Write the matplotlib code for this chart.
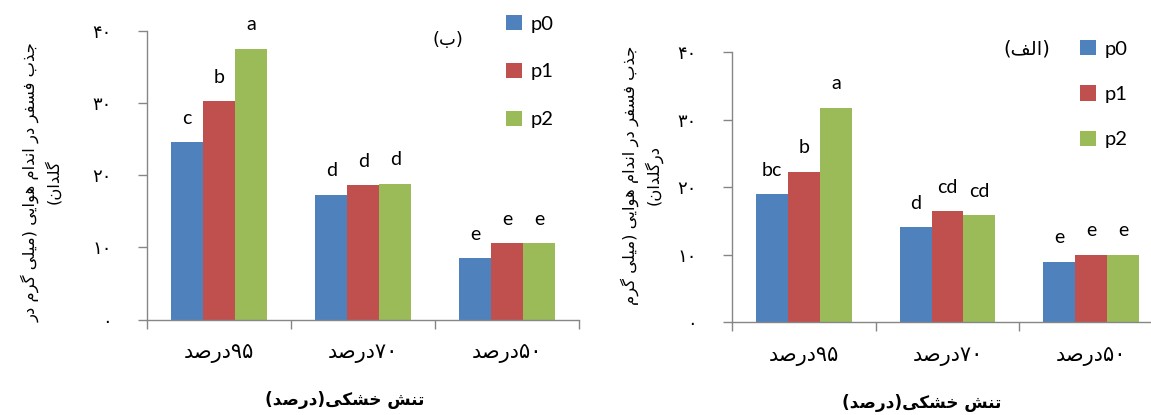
import matplotlib
matplotlib.use("Agg")
import matplotlib.pyplot as plt
import numpy as np

# ---------------- data ----------------
categories = ["۹۵درصد", "۷۰درصد", "۵۰درصد"]
series_names = ["p0", "p1", "p2"]
colors = ["#4F81BD", "#C0504D", "#9BBB59"]

# panel (ب) - left
b_p0 = [24.6, 17.3, 8.5]
b_p1 = [30.2, 18.6, 10.6]
b_p2 = [37.5, 18.8, 10.6]
b_letters = [["c", "d", "e"], ["b", "d", "e"], ["a", "d", "e"]]

# panel (الف) - right
a_p0 = [19.0, 14.1, 9.0]
a_p1 = [22.3, 16.5, 10.0]
a_p2 = [31.8, 15.9, 10.0]
a_letters = [["bc", "d", "e"], ["b", "cd", "e"], ["a", "cd", "e"]]

yticks = [0, 10, 20, 30, 40]
xlabel_text = "تنش خشکی(درصد)"
ylabel_b = "جذب فسفر در اندام هوایی (میلی گرم در\nگلدان)"
ylabel_a = "جذب فسفر در اندام هوایی (میلی گرم\nدرگلدان)"
panel_b = "(ب)"
panel_a = "(الف)"

# ---------------- Persian shaping helpers ----------------
FORMS = {
    'ا': ('\uFE8D', '\uFE8E', None, None),
    'ب': ('\uFE8F', '\uFE90', '\uFE91', '\uFE92'),
    'ت': ('\uFE95', '\uFE96', '\uFE97', '\uFE98'),
    'ج': ('\uFE9D', '\uFE9E', '\uFE9F', '\uFEA0'),
    'خ': ('\uFEA5', '\uFEA6', '\uFEA7', '\uFEA8'),
    'د': ('\uFEA9', '\uFEAA', None, None),
    'ذ': ('\uFEAB', '\uFEAC', None, None),
    'ر': ('\uFEAD', '\uFEAE', None, None),
    'س': ('\uFEB1', '\uFEB2', '\uFEB3', '\uFEB4'),
    'ش': ('\uFEB5', '\uFEB6', '\uFEB7', '\uFEB8'),
    'ص': ('\uFEB9', '\uFEBA', '\uFEBB', '\uFEBC'),
    'ف': ('\uFED1', '\uFED2', '\uFED3', '\uFED4'),
    'ل': ('\uFEDD', '\uFEDE', '\uFEDF', '\uFEE0'),
    'م': ('\uFEE1', '\uFEE2', '\uFEE3', '\uFEE4'),
    'ن': ('\uFEE5', '\uFEE6', '\uFEE7', '\uFEE8'),
    'ه': ('\uFEE9', '\uFEEA', '\uFEEB', '\uFEEC'),
    'و': ('\uFEED', '\uFEEE', None, None),
    'ی': ('\uFBFC', '\uFBFD', '\uFBFE', '\uFBFF'),
    'ک': ('\uFB8E', '\uFB8F', '\uFB90', '\uFB91'),
    'گ': ('\uFB92', '\uFB93', '\uFB94', '\uFB95'),
}
DIGITS = set("0123456789۰۱۲۳۴۵۶۷۸۹")
MIRROR = {'(': ')', ')': '('}


def shape(s):
    out = []
    n = len(s)
    for i, ch in enumerate(s):
        if ch not in FORMS:
            out.append(ch)
            continue
        f = FORMS[ch]
        prev = s[i - 1] if i > 0 else None
        nxt = s[i + 1] if i < n - 1 else None
        jp = prev in FORMS and FORMS[prev][2] is not None
        jn = f[2] is not None and nxt in FORMS
        if jp and jn:
            out.append(f[3])
        elif jp:
            out.append(f[1])
        elif jn:
            out.append(f[2])
        else:
            out.append(f[0])
    return "".join(out)


def visual(s):
    lines = []
    for line in s.split("\n"):
        sh = shape(line)
        toks = []
        i = 0
        while i < len(sh):
            if sh[i] in DIGITS:
                j = i
                while j < len(sh) and sh[j] in DIGITS:
                    j += 1
                toks.append(sh[i:j])
                i = j
            else:
                toks.append(MIRROR.get(sh[i], sh[i]))
                i += 1
        lines.append("".join(reversed(toks)))
    return "\n".join(lines)


def to_fa(n):
    return str(n).translate(str.maketrans("0123456789", "۰۱۲۳۴۵۶۷۸۹"))


FA = ["DejaVu Sans"]
LAT = ["Lato", "DejaVu Sans"]

W, H = 1151, 415
fig = plt.figure(figsize=(W / 100, H / 100), dpi=100)


def px(x, y):
    return x / W, 1 - y / H


def panel(rect, vals, letters, ylabel, ylab_x, ylab_y, plabel, plabel_xy, plabel_fs,
          leg_xy, leg_space, title_xy):
    ax = fig.add_axes(rect)
    x = np.arange(len(categories))
    bw = 0.2222
    bars = []
    for k, (v, c) in enumerate(zip(vals, colors)):
        pos = x + (k - 1) * bw
        b = ax.bar(pos, v, width=bw, color=c, edgecolor="none", label=series_names[k])
        bars.append(b)
        for xi, vi, lab in zip(pos, v, letters[k]):
            ax.annotate(lab, (xi, vi), xytext=(0, 13.2), textcoords="offset points",
                        ha="center", va="baseline", fontsize=14, family=LAT, color="black")
    ax.set_xlim(-0.5, 2.5)
    ax.set_ylim(0, 40)
    for s in ["top", "right"]:
        ax.spines[s].set_visible(False)
    for s in ["left", "bottom"]:
        ax.spines[s].set_color("#868686")
        ax.spines[s].set_linewidth(1.0)
    ax.set_yticks(yticks)
    ax.set_yticklabels([to_fa(t) for t in yticks], family=FA, fontsize=13)
    ax.tick_params(axis="y", direction="out", length=6.5, width=1.0, color="#868686", pad=19)
    ax.set_xticks(x)
    ax.set_xticklabels([visual(c) for c in categories], family=FA, fontsize=15)
    ax.set_xticks(np.arange(-0.5, 3.0, 1.0), minor=True)
    ax.tick_params(axis="x", which="major", length=0, pad=17)
    ax.tick_params(axis="x", which="minor", direction="out", length=6.5, width=1.0, color="#868686")
    ax.patch.set_alpha(0)

    fx, fy = px(*title_xy)
    fig.text(fx, fy, visual(xlabel_text), ha="center", va="center", family=FA,
             fontsize=12.2, fontweight="bold")
    fx, fy = px(ylab_x, ylab_y)
    fig.text(fx, fy, visual(ylabel), rotation=90, ha="center", va="center", family=FA,
             fontsize=11.8, multialignment="center", linespacing=1.35)
    fx, fy = px(*plabel_xy)
    fig.text(fx, fy, visual(plabel), ha="center", va="center", family=FA, fontsize=plabel_fs)

    lx, ly = px(*leg_xy)
    fig.legend(handles=bars, labels=series_names, loc="upper left", bbox_to_anchor=(lx, ly),
               frameon=False, prop={"family": LAT, "size": 14.5}, handlelength=0.78,
               handleheight=0.78, handletextpad=0.45, labelspacing=leg_space, borderpad=0,
               borderaxespad=0)
    return ax


# left panel (ب)
panel([147.3 / W, (H - 319.5) / H, 432 / W, 288.8 / H],
      [b_p0, b_p1, b_p2], b_letters, ylabel_b, 41, 182,
      panel_b, (448, 40), 13, (506, 15), 1.5, (345, 400))

# right panel (الف)
panel([732.3 / W, (H - 322.3) / H, 430.5 / W, 270 / H],
      [a_p0, a_p1, a_p2], a_letters, ylabel_a, 642, 175,
      panel_a, (1027, 49), 14, (1080, 40), 1.38, (922, 403))

fig.savefig("out.png", dpi=100)
